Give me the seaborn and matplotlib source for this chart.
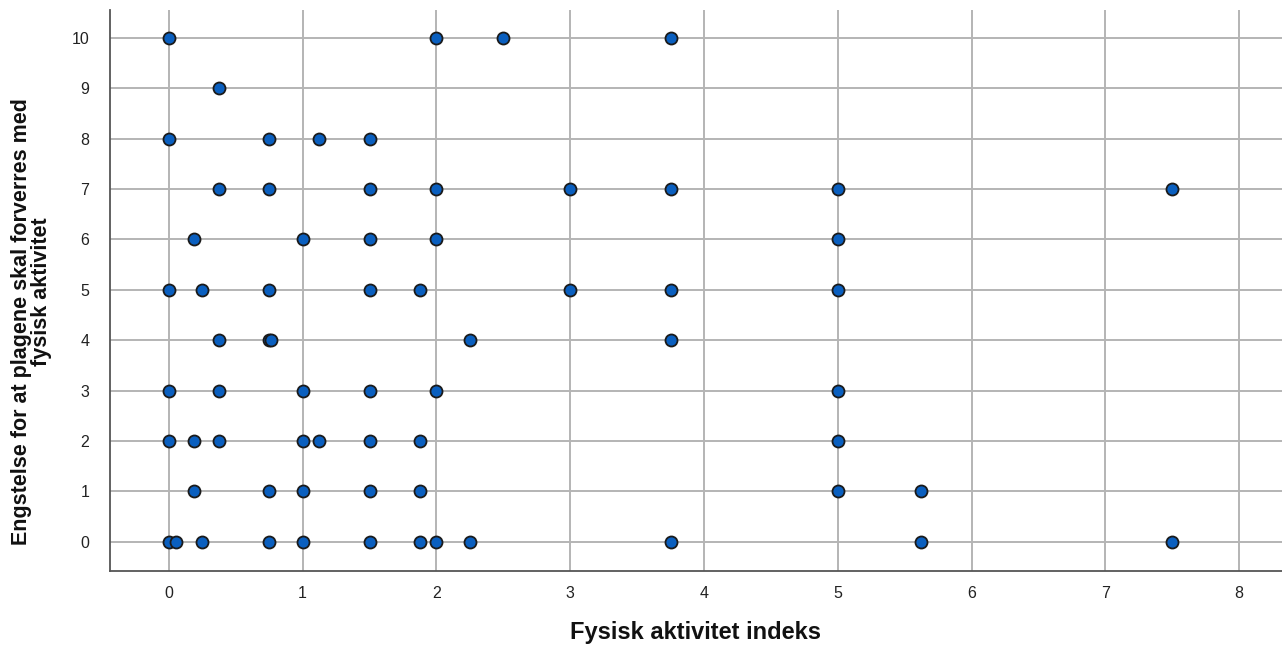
import matplotlib
matplotlib.use("Agg")
import matplotlib.pyplot as plt
import matplotlib.font_manager as fm
import pandas as pd
import seaborn as sns

# verdier lest av figuren, gruppert per y-nivaa
engstelse = [10, 9, 8, 7, 6, 5, 4, 3, 2, 1, 0]
aktivitet = [
    [0, 2, 2.5, 3.75],
    [0.375],
    [0, 0.75, 1.125, 1.5],
    [0.375, 0.75, 1.5, 2, 3, 3.75, 5, 7.5],
    [0.1875, 1, 1.5, 2, 5],
    [0, 0.25, 0.75, 1.5, 1.875, 3, 3.75, 5],
    [0.375, 0.75, 0.76, 2.25, 3.75],
    [0, 0.375, 1, 1.5, 2, 5],
    [0, 0.1875, 0.375, 1, 1.125, 1.5, 1.875, 5],
    [0.1875, 0.75, 1, 1.5, 1.875, 5, 5.625],
    [0, 0.05, 0.25, 0.75, 1, 1.5, 1.875, 2, 2.25, 3.75, 5.625, 7.5],
]
ylabel_linjer = ["Engstelse for at plagene skal forverres med", "fysisk aktivitet"]

rows = []
for yv, xs in zip(engstelse, aktivitet):
    for xv in xs:
        rows.append({"indeks": xv, "engstelse": yv})
data = pd.DataFrame(rows)

sns.set_style("white")
names = {f.name for f in fm.fontManager.ttflist}
fam = "Liberation Sans Narrow" if "Liberation Sans Narrow" in names else "Liberation Sans"
plt.rcParams["font.family"] = [fam, "DejaVu Sans"]

fig = plt.figure(figsize=(12.82, 6.5), dpi=100)
ax = fig.add_axes([0.0858, 0.1215, 0.9142, 0.8635])

sns.scatterplot(data=data, x="indeks", y="engstelse", ax=ax, s=75,
                color="#0a5fbf", edgecolor="#1a1a1a", linewidth=1.3, zorder=3)

ax.set_xlim(-0.44, 8.32)
ax.set_ylim(-0.58, 10.56)
ax.set_xticks(range(0, 9))
ax.set_yticks(range(0, 11))
ax.grid(True, color="#b4b4b4", linewidth=1.4, zorder=0)
ax.set_axisbelow(True)
for side in ["top", "right"]:
    ax.spines[side].set_visible(False)
for side in ["left", "bottom"]:
    ax.spines[side].set_color("#555555")
    ax.spines[side].set_linewidth(1.3)
ax.tick_params(length=0, pad=11, labelsize=11.5, labelcolor="#222222")
ax.tick_params(axis="y", pad=15)

ax.set_xlabel("Fysisk aktivitet indeks", fontsize=17, fontweight="bold",
              labelpad=14, color="#111111")
ax.set_ylabel("")

# to linjer, sentrert slik som i originalen
fig.text(22 / 1282, 1 - 322 / 650, ylabel_linjer[0], rotation=90, fontsize=15.5,
         fontweight="bold", color="#111111", ha="center", va="center")
fig.text(42 / 1282, 1 - 292 / 650, ylabel_linjer[1], rotation=90, fontsize=15.5,
         fontweight="bold", color="#111111", ha="center", va="center")

fig.savefig("out.png", dpi=100)
